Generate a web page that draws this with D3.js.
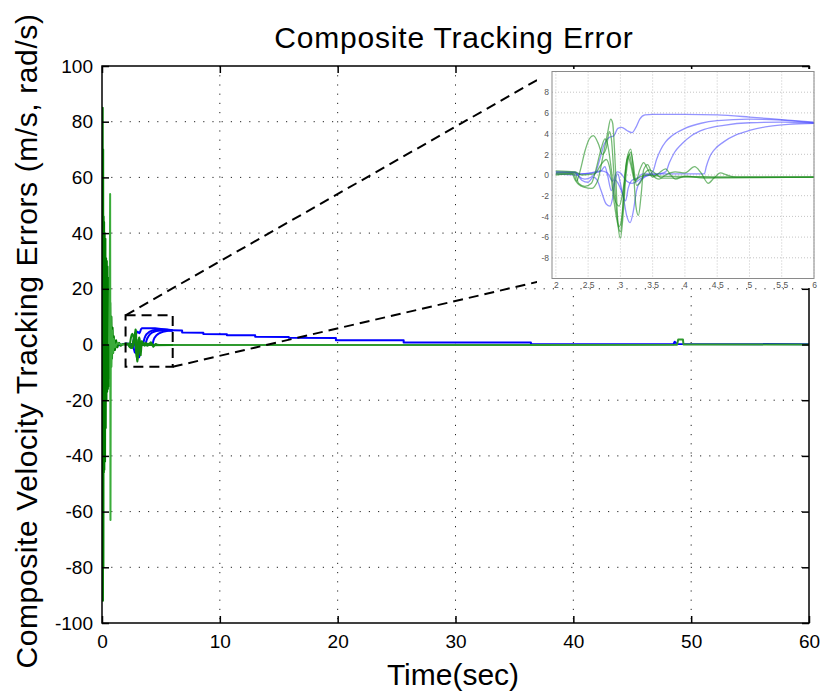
<!DOCTYPE html>
<html>
<head>
<meta charset="utf-8">
<script src="https://cdn.jsdelivr.net/npm/d3@7"></script>
<style>
  body { margin: 0; background: #fff; }
  text { font-family: "Liberation Sans", Arial, sans-serif; }
</style>
</head>
<body>
<svg id="chart" width="824" height="692"></svg>
<script>
// tick values
const xTicks = [0, 10, 20, 30, 40, 50, 60];
const yTicks = [-100, -80, -60, -40, -20, 0, 20, 40, 60, 80, 100];
const insetXTicks = [2, 2.5, 3, 3.5, 4, 4.5, 5, 5.5, 6];
const insetYTicks = [-8, -6, -4, -2, 0, 2, 4, 6, 8];

// start-up transient, [time, error]
const greenEarly = [[0,0],[0.02,30],[0.04,-60],[0.06,85],[0.08,-92],[0.1,70],[0.12,-80],[0.14,46],
  [0.16,-46],[0.18,44],[0.2,-45],[0.23,40],[0.26,-42],[0.29,38],[0.32,-30],[0.35,31],[0.38,-20],
  [0.41,30],[0.44,-17],[0.47,28],[0.5,-16],[0.54,24],[0.58,-15],[0.62,22],[0.66,-12],[0.7,15],
  [0.75,-8],[0.8,10],[0.85,-5],[0.9,6],[0.95,-3],[1.0,3],[1.1,-2],[1.2,1.5],[1.3,-1],[1.45,0.6],
  [1.6,-0.4],[1.8,0.2],[2.0,0.1]];
const greenSpike = [[0.6,0],[0.66,20],[0.69,54],[0.72,-63],[0.75,10],[0.8,-8],[0.86,5],[0.92,-3],
  [1.0,2],[1.1,-1],[1.3,0.5],[1.6,0],[2.0,0]];
const blueEarly = [[0,0],[0.05,-2],[0.1,-5],[0.15,1],[0.2,-7],[0.25,-3],[0.3,-8],[0.35,-1],[0.4,-4],
  [0.45,1],[0.5,-2],[0.6,0.5],[0.7,-1],[0.8,0.5],[1.0,-0.5],[1.2,0.3],[1.5,-0.3],[1.8,0.2],[2.0,0.3]];

// the zoomed window, 2..6 sec
const blue1 = [[2,0.3],[2.3,0.3],[2.35,-0.1],[2.45,-0.4],[2.55,-0.2],[2.62,0.3],[2.68,1.5],[2.75,3.0],
  [2.82,3.6],[2.9,3.8],[2.96,4.5],[3.02,4.6],[3.1,4.3],[3.18,4.1],[3.24,4.6],[3.3,5.4],[3.38,5.8],
  [3.5,5.85],[4.0,5.85],[4.5,5.8],[5,5.6],[5.5,5.35],[6,5.1]];
const blue2 = [[2,0.3],[2.3,0.2],[2.4,-0.5],[2.5,-0.7],[2.58,-0.2],[2.64,-0.5],[2.7,-1.5],[2.78,-2.8],
  [2.84,-3.0],[2.88,-2.2],[2.92,-0.5],[2.96,0.1],[3.0,-0.8],[3.04,-2.0],[3.08,-2.5],[3.12,-1.3],
  [3.18,-0.5],[3.26,-0.3],[3.35,0.1],[3.45,0.1],[3.5,0.3],[3.56,1.5],[3.62,2.4],[3.7,3.2],[3.8,3.8],
  [4.0,4.5],[4.25,5.0],[4.5,5.25],[5,5.4],[5.5,5.3],[6,5.05]];
const blue3 = [[2,0.1],[2.3,0],[2.4,0.1],[2.6,0.2],[2.7,0.4],[2.76,0.8],[2.8,0],[2.86,-1.5],[2.92,-0.5],
  [2.98,-1.0],[3.04,-2.0],[3.1,-4.0],[3.15,-4.6],[3.2,-3.5],[3.25,-1.5],[3.32,-0.5],[3.45,0],[3.6,0.1],
  [3.7,0.3],[3.76,1.2],[3.84,2.2],[3.95,3.0],[4.1,3.8],[4.3,4.4],[4.6,4.8],[5,5.05],[5.5,5.1],[6,5.0]];
const blue4 = [[2,0.2],[2.3,0.2],[2.4,0.1],[2.55,0.2],[2.7,0.4],[2.8,0.2],[2.88,-0.6],[2.95,0.3],[3.0,0.2],
  [3.06,-0.3],[3.1,-0.6],[3.18,-0.8],[3.26,-0.6],[3.35,-0.2],[3.5,0.1],[4.0,0.1],[4.3,0.1],[4.33,0.8],
  [4.38,1.7],[4.45,2.4],[4.6,3.2],[4.8,3.9],[5,4.3],[5.3,4.7],[5.6,4.9],[6,5.0]];
const green1 = [[2,0.1],[2.25,0.1],[2.3,-0.5],[2.35,-0.9],[2.45,-1.2],[2.55,-1.3],[2.65,-0.5],[2.72,1.5],
  [2.8,4.0],[2.85,5.4],[2.88,5.0],[2.92,1.0],[2.96,-4.5],[3.0,-6.1],[3.04,-4.0],[3.08,-0.5],[3.12,1.5],
  [3.16,2.2],[3.2,1.0],[3.25,-1.0],[3.3,-0.8],[3.38,0.2],[3.45,0.5],[3.55,0.1],[3.65,-0.3],[3.8,-0.3],
  [4.0,-0.2],[6,-0.2]];
const green2 = [[2,0],[2.28,0.1],[2.32,-0.6],[2.38,0.5],[2.45,2.3],[2.52,3.5],[2.58,3.8],[2.66,3.0],
  [2.72,2.0],[2.78,2.6],[2.83,4.2],[2.86,3.5],[2.9,0],[2.94,-3.5],[2.98,-5.0],[3.02,-4.2],[3.06,-1.0],
  [3.1,1.2],[3.14,2.0],[3.18,0.8],[3.24,-0.6],[3.3,0.5],[3.36,1.2],[3.42,0.6],[3.5,-0.2],[3.6,0.2],
  [3.7,0.6],[3.78,0],[3.85,-0.4],[4.0,-0.1],[4.3,-0.3],[6,-0.2]];
const green3 = [[2,0.2],[2.3,0.2],[2.35,-0.8],[2.45,-1.1],[2.55,-0.8],[2.62,0.5],[2.7,2.5],[2.76,3.5],
  [2.8,3.0],[2.86,0.5],[2.92,-2.5],[2.98,-3.0],[3.04,-1.5],[3.1,1.5],[3.16,2.5],[3.2,0.5],[3.24,-3.0],
  [3.28,-3.9],[3.32,-2.0],[3.36,0.5],[3.42,1.0],[3.5,0],[3.6,-0.4],[3.7,0],[3.85,0.3],[4.0,0.2],
  [4.15,0.8],[4.25,0.2],[4.36,-0.8],[4.45,-0.3],[4.55,0.2],[4.65,0],[4.8,-0.2],[6,-0.2]];
const green4 = [[2,0.4],[2.3,0.3],[2.4,0],[2.6,0.1],[2.7,1.0],[2.78,1.5],[2.84,0.5],[2.9,-2.5],[2.95,-4.5],
  [3.0,-5.5],[3.04,-3.0],[3.08,0.5],[3.12,1.8],[3.16,1.0],[3.22,-0.5],[3.3,-0.2],[3.4,0],[3.6,-0.1],
  [4.2,-0.15],[4.6,-0.2],[6,-0.2]];

// slow settling after 6 sec
const blueTail = [[6,5.1],[6.8,5.0],[6.8,4.3],[8.6,4.2],[8.6,3.8],[10.6,3.7],[10.6,3.35],[13,3.3],
  [13,2.75],[15.85,2.7],[15.85,2.4],[19.85,2.35],[19.85,1.55],[25.6,1.5],[25.6,0.75],[36.4,0.7],
  [36.4,0.1],[48.5,0.1],[48.6,1.0],[48.8,0.2],[60,0.1]];
const greenTail = [[6,-0.2],[36.4,-0.2],[48.8,-0.1],[48.9,1.8],[49.3,1.8],[49.35,0],[60,0]];

const zoomBox = {x0: 2, x1: 6, y0: -8, y1: 10.5};

const blueCurves = [blue1, blue2, blue3, blue4];
const greenCurves = [green1, green2, green3, green4];

const svg = d3.select('#chart');
const plain = d => String(d);  // hyphen minus, no trailing .0

const x = d3.scaleLinear().domain([0, 60]).range([102, 809]);
const y = d3.scaleLinear().domain([-100, 100]).range([623, 66]);

svg.append('defs').append('clipPath').attr('id', 'mainClip')
  .append('rect').attr('x', 102).attr('y', 66).attr('width', 707).attr('height', 557);

// dotted grid
const grid = svg.append('g').attr('stroke', '#222').attr('stroke-width', 1)
  .attr('stroke-dasharray', '1.2,8');
grid.selectAll('line.gx').data(xTicks.slice(1, -1)).join('line')
  .attr('x1', d => x(d)).attr('x2', d => x(d)).attr('y1', 66).attr('y2', 623);
grid.selectAll('line.gy').data(yTicks.slice(1, -1)).join('line')
  .attr('y1', d => y(d)).attr('y2', d => y(d)).attr('x1', 102).attr('x2', 809);

const mainLine = d3.line().x(d => x(d[0])).y(d => y(d[1]));
const plot = svg.append('g').attr('clip-path', 'url(#mainClip)').attr('fill', 'none')
  .attr('stroke-width', 2).attr('stroke-linejoin', 'round');

plot.append('path').datum(blueEarly).attr('d', mainLine).attr('stroke', '#0000ff');
blueCurves.forEach(c => plot.append('path').datum(c).attr('d', mainLine).attr('stroke', '#0000ff'));
plot.append('path').datum(blueTail).attr('d', mainLine).attr('stroke', '#0000ff');
plot.append('path').datum(greenTail).attr('d', mainLine).attr('stroke', '#2f9a2f');
plot.append('path').datum(greenEarly).attr('d', mainLine).attr('stroke', '#007a00');
plot.append('path').datum(greenSpike).attr('d', mainLine).attr('stroke', '#3aac3a');
greenCurves.forEach(c => plot.append('path').datum(c).attr('d', mainLine).attr('stroke', '#118811'));

// axes, ticks pointing inward on all four sides
function styleAxis(g) {
  g.select('.domain').remove();
  g.selectAll('.tick line').attr('stroke', '#000').attr('stroke-width', 1.5);
  g.selectAll('.tick text').attr('font-size', 19).attr('fill', '#000')
    .attr('font-family', '"Liberation Sans", Arial, sans-serif');
}
svg.append('g').attr('transform', 'translate(0,623)')
  .call(d3.axisBottom(x).tickValues(xTicks).tickFormat(plain)
    .tickSizeInner(-7).tickSizeOuter(0).tickPadding(12))
  .call(styleAxis);
svg.append('g').attr('transform', 'translate(0,66)')
  .call(d3.axisTop(x).tickValues(xTicks).tickSizeInner(-7).tickSizeOuter(0).tickFormat(''))
  .call(styleAxis);
svg.append('g').attr('transform', 'translate(102,0)')
  .call(d3.axisLeft(y).tickValues(yTicks).tickFormat(plain)
    .tickSizeInner(-7).tickSizeOuter(0).tickPadding(9))
  .call(styleAxis);
svg.append('g').attr('transform', 'translate(809,0)')
  .call(d3.axisRight(y).tickValues(yTicks).tickSizeInner(-7).tickSizeOuter(0).tickFormat(''))
  .call(styleAxis);

svg.append('rect').attr('x', 102).attr('y', 66).attr('width', 707).attr('height', 557)
  .attr('fill', 'none').attr('stroke', '#000').attr('stroke-width', 1.5);

// inset axes
const xIn = d3.scaleLinear().domain([1.94, 6]).range([552, 814]);
const yIn = d3.scaleLinear().domain([-10, 10]).range([278.5, 71.5]);

// dashed zoom box and connectors
const dash = svg.append('g').attr('stroke', '#000').attr('stroke-width', 2)
  .attr('stroke-dasharray', '10,6').attr('fill', 'none');
dash.append('rect')
  .attr('x', x(zoomBox.x0)).attr('y', y(zoomBox.y1))
  .attr('width', x(zoomBox.x1) - x(zoomBox.x0)).attr('height', y(zoomBox.y0) - y(zoomBox.y1));
dash.append('line').attr('x1', x(zoomBox.x0)).attr('y1', y(zoomBox.y1))
  .attr('x2', xIn.range()[0]).attr('y2', yIn.range()[1]);
dash.append('line').attr('x1', x(zoomBox.x1)).attr('y1', y(zoomBox.y0))
  .attr('x2', xIn.range()[0]).attr('y2', yIn.range()[0]);

const inset = svg.append('g');
inset.append('rect').attr('x', 537).attr('y', 69).attr('width', 280).attr('height', 219).attr('fill', '#fff');

inset.append('defs').append('clipPath').attr('id', 'insetClip')
  .append('rect').attr('x', 552).attr('y', 71.5).attr('width', 262).attr('height', 207);

const igrid = inset.append('g').attr('stroke', '#c4c4c4').attr('stroke-width', 1)
  .attr('stroke-dasharray', '1,2');
igrid.selectAll('line.gx').data(insetXTicks).join('line')
  .attr('x1', d => xIn(d)).attr('x2', d => xIn(d)).attr('y1', 71.5).attr('y2', 278.5);
igrid.selectAll('line.gy').data(insetYTicks).join('line')
  .attr('y1', d => yIn(d)).attr('y2', d => yIn(d)).attr('x1', 552).attr('x2', 814);

const insetLine = d3.line().curve(d3.curveMonotoneX).x(d => xIn(d[0])).y(d => yIn(d[1]));
const iplot = inset.append('g').attr('clip-path', 'url(#insetClip)').attr('fill', 'none')
  .attr('stroke-width', 1.3);
blueCurves.forEach(c => iplot.append('path').datum(c).attr('d', insetLine)
  .attr('stroke', '#3c3cff').attr('stroke-opacity', 0.55));
greenCurves.forEach(c => iplot.append('path').datum(c).attr('d', insetLine)
  .attr('stroke', '#1a8c1a').attr('stroke-opacity', 0.6));

inset.append('rect').attr('x', 552).attr('y', 71.5).attr('width', 262).attr('height', 207)
  .attr('fill', 'none').attr('stroke', '#8a8a8a').attr('stroke-width', 1);

function styleInsetAxis(g) {
  g.select('.domain').remove();
  g.selectAll('.tick line').remove();
  g.selectAll('.tick text').attr('font-size', 8.5).attr('fill', '#555')
    .attr('font-family', '"Liberation Sans", Arial, sans-serif');
}
inset.append('g').attr('transform', 'translate(0,278.5)')
  .call(d3.axisBottom(xIn).tickValues(insetXTicks).tickFormat(plain).tickSize(0).tickPadding(3))
  .call(styleInsetAxis);
inset.append('g').attr('transform', 'translate(552,0)')
  .call(d3.axisLeft(yIn).tickValues(insetYTicks).tickFormat(plain).tickSize(0).tickPadding(3))
  .call(styleInsetAxis);

// titles
svg.append('text').attr('x', 454).attr('y', 48).attr('text-anchor', 'middle')
  .attr('font-size', 30).attr('letter-spacing', 0.8).text('Composite Tracking Error');
svg.append('text').attr('x', 453).attr('y', 685).attr('text-anchor', 'middle')
  .attr('font-size', 30).text('Time(sec)');
svg.append('text').attr('transform', 'translate(37,341) rotate(-90)').attr('text-anchor', 'middle')
  .attr('font-size', 30).attr('letter-spacing', 0.6)
  .text('Composite Velocity Tracking Errors (m/s, rad/s)');
</script>
</body>
</html>
